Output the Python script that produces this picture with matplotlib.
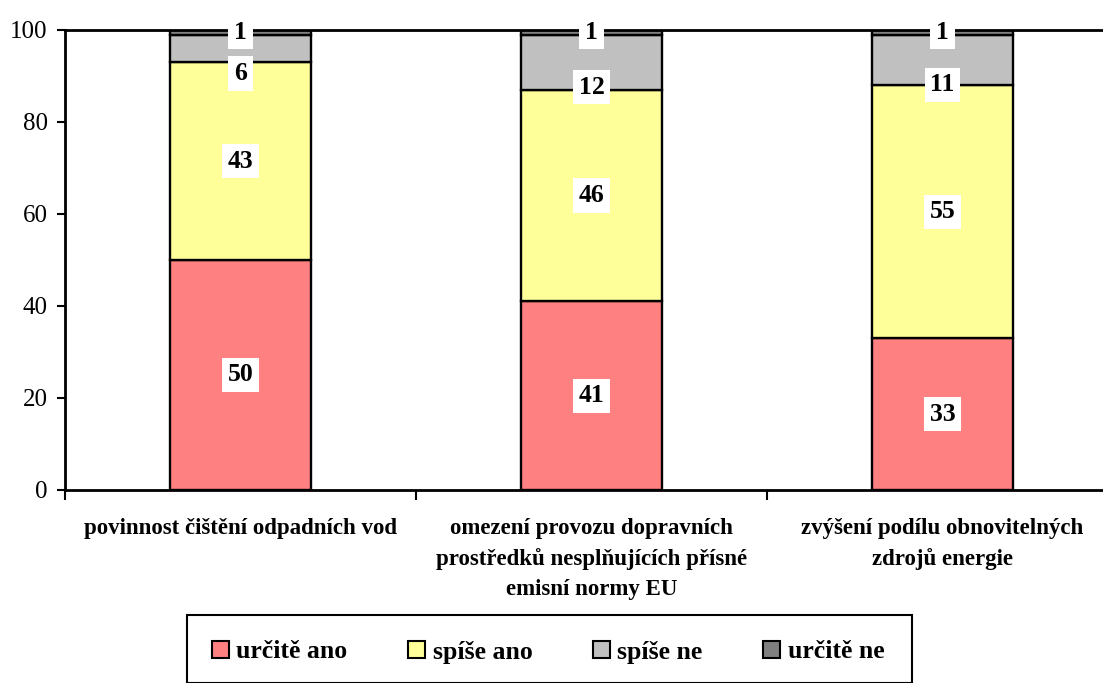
import matplotlib.pyplot as plt
from matplotlib.patches import Patch, Rectangle

categories = [
    "povinnost čištění odpadních vod",
    "omezení provozu dopravních\nprostředků nesplňujících přísné\nemisní normy EU",
    "zvýšení podílu obnovitelných\nzdrojů energie",
]
series_names = ["určitě ano", "spíše ano", "spíše ne", "určitě ne"]
urcite_ano = [50, 41, 33]
spise_ano = [43, 46, 55]
spise_ne = [6, 12, 11]
urcite_ne = [1, 1, 1]
colors = ["#FF8080", "#FFFF99", "#C0C0C0", "#808080"]

plt.rcParams['font.family'] = ['Liberation Serif', 'DejaVu Serif']

fig = plt.figure(figsize=(11.03, 6.83), dpi=100)
W, H = 1103, 683
ax = fig.add_axes([65 / W, 1 - 490 / H, 1053 / W, 460 / H])

series = [urcite_ano, spise_ano, spise_ne, urcite_ne]
x = range(len(categories))
bottoms = [0] * len(categories)
# label shift (points) so the small segments don't collide
shifts = [0, 0, -18, 0]
for k, vals in enumerate(series):
    ax.bar(x, vals, width=0.4, bottom=bottoms, color=colors[k],
           edgecolor='black', linewidth=1.7, zorder=2)
    for i, v in enumerate(vals):
        yc = bottoms[i] + v / 2
        ax.annotate(str(v), (i, yc), xytext=(0, shifts[k]), textcoords='offset points',
                    ha='center', va='center', fontsize=18.5, fontweight='bold',
                    bbox=dict(facecolor='white', edgecolor='none', pad=4), zorder=3)
    bottoms = [b + v for b, v in zip(bottoms, vals)]

ax.set_xlim(-0.5, 2.5)
ax.set_ylim(0, 100)
ax.set_yticks([0, 20, 40, 60, 80, 100])
ax.tick_params(axis='y', labelsize=18, length=5.5, width=1.5, direction='out', pad=7)
ax.set_xticks(list(x))
ax.set_xticklabels(categories, fontsize=16.5, fontweight='bold', linespacing=1.55)
ax.tick_params(axis='x', which='major', length=0, pad=20)
ax.set_xticks([-0.5, 0.5, 1.5, 2.5], minor=True)
ax.tick_params(axis='x', which='minor', length=7, width=1.5, direction='out')
for s in ax.spines.values():
    s.set_linewidth(2)

handles = [Patch(facecolor=c, edgecolor='black', linewidth=1.5) for c in colors]
fig.add_artist(Rectangle((187 / W, 0), 725 / W, 1 - 615 / H, transform=fig.transFigure,
                         facecolor='white', edgecolor='black', linewidth=1.5, clip_on=False))
fig.legend(handles, series_names, loc='center', bbox_to_anchor=(548 / W, 1 - 652 / H),
           ncol=4, frameon=False, prop={'size': 18.5, 'weight': 'bold'},
           handlelength=0.66, handleheight=0.66, handletextpad=0.3, columnspacing=2.35)

fig.savefig('out.png', dpi=100)
